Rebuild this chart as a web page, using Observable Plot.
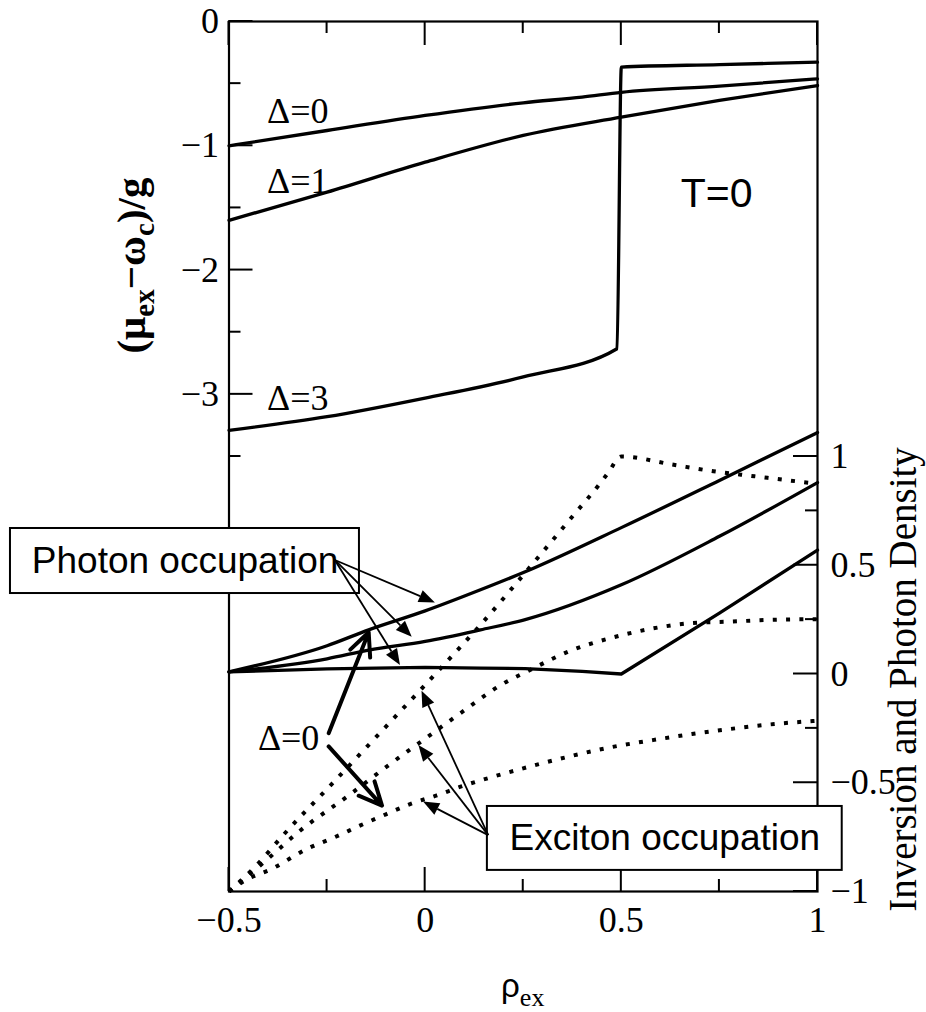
<!DOCTYPE html>
<html><head><meta charset="utf-8">
<script src="https://cdn.jsdelivr.net/npm/d3@7"></script>
<script src="https://cdn.jsdelivr.net/npm/@observablehq/plot@0.6"></script>
<style>html,body{margin:0;padding:0;background:#fff;} #chart svg{display:block;}</style>
</head><body><div id="chart"></div>
<script>
// ---------- tick values ----------
const xTicksMajor = [-0.5, 0, 0.5, 1];
const xTicksMinor = [-0.25, 0.25, 0.75];
const leftTicksMajor = [0, -1, -2, -3];
const leftTicksMinor = [-0.5, -1.5, -2.5, -3.5];
const rightTicksMajor = [1, 0.5, 0, -0.5, -1];
const rightTicksMinor = [0.75, 0.25, -0.25, -0.75];

// ---------- upper panel: (mu_ex - omega_c)/g  (left axis) ----------
const delta0X = [-0.5, -0.25, 0, 0.25, 0.4, 0.5, 0.75, 1];
const delta0Y = [-1.0, -0.877, -0.756, -0.654, -0.608, -0.57, -0.52, -0.461];
const delta1X = [-0.5, -0.25, 0, 0.25, 0.5, 0.75, 1];
const delta1Y = [-1.60, -1.373, -1.132, -0.917, -0.77, -0.635, -0.515];
const delta3X = [-0.5, -0.25, 0, 0.25, 0.489, 0.5, 0.75, 1];
const delta3Y = [-3.29, -3.18, -3.03, -2.86, -2.633, -0.367, -0.347, -0.327];

// ---------- lower panel: inversion and photon density (right axis) ----------
const photonAX = [-0.5, -0.25, -0.144, 0, 0.141, 0.255, 0.5, 0.75, 1];
const photonAY = [0.01, 0.13, 0.203, 0.29, 0.387, 0.47, 0.673, 0.89, 1.11];
const photonBX = [-0.5, -0.25, -0.144, 0, 0.141, 0.255, 0.5, 0.75, 1];
const photonBY = [0.01, 0.07, 0.11, 0.15, 0.203, 0.25, 0.41, 0.633, 0.88];
const photonCX = [-0.5, -0.25, 0, 0.141, 0.255, 0.4, 0.5, 0.75, 1];
const photonCY = [0.01, 0.024, 0.03, 0.027, 0.025, 0.012, 0.0, 0.28, 0.57];

const excitonAX = [-0.5, -0.43, -0.36, -0.237, -0.11, 0.018, 0.141, 0.285, 0.378, 0.45, 0.472, 0.49, 0.5, 0.63, 0.735, 0.84, 0.98, 1];
const excitonAY = [-1, -0.88, -0.737, -0.504, -0.261, -0.015, 0.226, 0.53, 0.73, 0.886, 0.94, 0.99, 1.0, 0.963, 0.932, 0.909, 0.879, 0.875];
const excitonBX = [-0.5, -0.41, -0.32, -0.2, -0.09, 0.03, 0.09, 0.2, 0.27, 0.37, 0.47, 0.57, 0.68, 0.78, 0.88, 1];
const excitonBY = [-1, -0.864, -0.722, -0.565, -0.415, -0.258, -0.18, -0.043, 0.021, 0.107, 0.164, 0.206, 0.234, 0.241, 0.249, 0.252];
const excitonCX = [-0.5, -0.46, -0.39, -0.3, -0.23, -0.165, -0.1, -0.04, 0.03, 0.094, 0.166, 0.27, 0.37, 0.47, 0.58, 0.68, 0.79, 0.89, 1];
const excitonCY = [-1, -0.95, -0.895, -0.803, -0.75, -0.696, -0.645, -0.599, -0.558, -0.516, -0.476, -0.424, -0.378, -0.338, -0.304, -0.276, -0.25, -0.23, -0.215];

// ---------- annotations (data coordinates; lower panel in right-axis units) ----------
const upperLabels = [
  {x: -0.403, y: -0.72, text: "Δ=0"},
  {x: -0.403, y: -1.287, text: "Δ=1"},
  {x: -0.403, y: -3.03, text: "Δ=3"}
];
const tempLabel = [{x: 0.743, y: -1.384, text: "T=0"}];
const lowerDeltaLabel = [{x: -0.348, v: -0.297, text: "Δ=0"}];
const boxes = [
  {x1: -1.057, x2: -0.1675, v1: 0.669, v2: 0.370, tx: -0.612, tv: 0.52, text: "Photon occupation"},
  {x1: 0.1586, x2: 1.063, v1: -0.609, v2: -0.903, tx: 0.611, tv: -0.756, text: "Exciton occupation"}
];
const thinArrows = [
  {x1: -0.229, v1: 0.522, x2: 0.026, v2: 0.327},
  {x1: -0.229, v1: 0.522, x2: -0.033, v2: 0.169},
  {x1: -0.229, v1: 0.522, x2: -0.063, v2: 0.039},
  {x1: 0.162, v1: -0.743, x2: -0.008, v2: -0.079},
  {x1: 0.162, v1: -0.743, x2: -0.016, v2: -0.329},
  {x1: 0.162, v1: -0.743, x2: -0.004, v2: -0.589}
];
const thickArrows = [
  {x1: -0.246, v1: -0.272, x2: -0.144, v2: 0.192},
  {x1: -0.246, v1: -0.333, x2: -0.110, v2: -0.605}
];

// right-axis units -> left-axis units (shared y scale)
const toLeft = v => -5.25 + 1.75 * v;
const toRight = u => Math.round((u + 5.25) / 1.75 * 1000) / 1000;
const fmt = d => String(d).replace("-", "\u2212");

function series(name, xs, ys, conv) {
  return xs.map((x, i) => ({name, x, y: conv ? toLeft(ys[i]) : ys[i]}));
}
const upperRows = [...series("d0", delta0X, delta0Y), ...series("d1", delta1X, delta1Y), ...series("d3", delta3X, delta3Y)];
const photonSmooth = [...series("A", photonAX, photonAY, true), ...series("B", photonBX, photonBY, true)];
const photonKink = series("C", photonCX, photonCY, true);
const excitonRows = [...series("A", excitonAX, excitonAY, true), ...series("B", excitonBX, excitonBY, true), ...series("C", excitonCX, excitonCY, true)];

// inward ticks on all four sides, placed through the plot's scales
function innerTicks(index, scales, values, dims) {
  const g = d3.create("svg:g").attr("stroke", "black").attr("stroke-width", 2).attr("fill", "none");
  const top = dims.marginTop, bottom = dims.height - dims.marginBottom;
  const left = dims.marginLeft, right = dims.width - dims.marginRight;
  const seg = (x1, y1, x2, y2) => g.append("line").attr("x1", x1).attr("y1", y1).attr("x2", x2).attr("y2", y2);
  const MAJ = 24, MIN = 12;
  for (const t of xTicksMajor) { const x = scales.x(t); seg(x, bottom, x, bottom - MAJ); seg(x, top, x, top + MAJ); }
  for (const t of xTicksMinor) { const x = scales.x(t); seg(x, bottom, x, bottom - MIN); seg(x, top, x, top + MIN); }
  for (const t of leftTicksMajor) { const y = scales.y(t); seg(left, y, left + MAJ, y); }
  for (const t of leftTicksMinor) { const y = scales.y(t); seg(left, y, left + MIN, y); }
  for (const t of rightTicksMajor) { const y = scales.y(toLeft(t)); seg(right, y, right - MAJ, y); }
  for (const t of rightTicksMinor) { const y = scales.y(toLeft(t)); seg(right, y, right - MIN, y); }
  return g.node();
}

function filledArrowMark(data) {
  return (index, scales) => {
    const g = d3.create("svg:g");
    for (const d of data) {
      const x1 = scales.x(d.x1), y1 = scales.y(toLeft(d.v1));
      const x2 = scales.x(d.x2), y2 = scales.y(toLeft(d.v2));
      const a = Math.atan2(y2 - y1, x2 - x1), L = 16, Wd = 6.5;
      const bx = x2 - L * Math.cos(a), by = y2 - L * Math.sin(a);
      g.append("line").attr("x1", x1).attr("y1", y1).attr("x2", bx).attr("y2", by)
        .attr("stroke", "black").attr("stroke-width", 1.8);
      g.append("path").attr("d", `M${x2},${y2}L${bx - Wd * Math.sin(a)},${by + Wd * Math.cos(a)}L${bx + Wd * Math.sin(a)},${by - Wd * Math.cos(a)}Z`)
        .attr("fill", "black");
    }
    return g.node();
  };
}

function axisLabels(index, scales, values, dims) {
  const g = d3.create("svg:g").attr("fill", "black");
  // left y label
  const yl = g.append("text")
    .attr("transform", `translate(${dims.marginLeft - 84},${scales.y(-2) - 4}) rotate(-90)`)
    .attr("text-anchor", "middle").attr("font-family", "Liberation Serif")
    .attr("font-weight", "bold").attr("font-size", 41);
  yl.append("tspan").text("(\u03bc");
  yl.append("tspan").attr("font-size", 29).attr("dy", 9).text("ex");
  yl.append("tspan").attr("dy", -9).text("\u2212\u03c9");
  yl.append("tspan").attr("font-size", 29).attr("dy", 9).text("c");
  yl.append("tspan").attr("dy", -9).text(")/g");
  // right y label
  g.append("text")
    .attr("transform", `translate(${dims.width - 10},${scales.y(toLeft(0)) + 6}) rotate(-90)`)
    .attr("text-anchor", "middle").attr("font-family", "Liberation Serif").attr("font-size", 39)
    .text("Inversion and Photon Density");
  // x label
  const xl = g.append("text")
    .attr("x", scales.x(0.25)).attr("y", dims.height - 15)
    .attr("text-anchor", "middle").attr("font-size", 33);
  xl.append("tspan").attr("font-family", "Liberation Sans").text("\u03c1");
  xl.append("tspan").attr("font-family", "Liberation Serif").attr("font-size", 26).attr("dy", 9).text("ex");
  return g.node();
}

const chart = Plot.plot({
  width: 926,
  height: 1012,
  marginLeft: 228.5,
  marginRight: 109,
  marginTop: 21,
  marginBottom: 121,
  style: {fontFamily: "Liberation Serif", fontSize: "36px", background: "white", color: "black"},
  x: {domain: [-0.5, 1]},
  y: {domain: [-7, 0]},
  marks: [
    Plot.line(upperRows, {x: "x", y: "y", z: "name", stroke: "black", strokeWidth: 3.3, curve: "monotone-x"}),
    Plot.line(photonSmooth, {x: "x", y: "y", z: "name", stroke: "black", strokeWidth: 3.3, curve: "monotone-x"}),
    Plot.line(photonKink, {x: "x", y: "y", stroke: "black", strokeWidth: 3.3, curve: "linear"}),
    Plot.line(excitonRows, {x: "x", y: "y", z: "name", stroke: "black", strokeWidth: 4, strokeDasharray: "4 9.3", strokeLinecap: "butt", curve: "monotone-x"}),
    Plot.frame({stroke: "black", strokeWidth: 2.2}),
    innerTicks,
    // tick labels
    Plot.axisX({ticks: xTicksMajor, anchor: "bottom", tickSize: 0, tickPadding: 15, tickFormat: fmt, fontSize: 36, label: null}),
    Plot.axisY({ticks: leftTicksMajor, anchor: "left", tickSize: 0, tickPadding: 10, tickFormat: fmt, fontSize: 36, label: null}),
    Plot.axisY({ticks: rightTicksMajor.map(toLeft), anchor: "right", tickSize: 0, tickPadding: 13, tickFormat: d => fmt(toRight(d)), fontSize: 36, label: null}),
    // curve labels
    Plot.text(upperLabels, {x: "x", y: "y", text: "text", textAnchor: "start", fontSize: 36, fontFamily: "Liberation Serif"}),
    Plot.text(tempLabel, {x: "x", y: "y", text: "text", fontSize: 41, fontFamily: "Liberation Sans"}),
    Plot.text(lowerDeltaLabel, {x: "x", y: d => toLeft(d.v), text: "text", fontSize: 36, fontFamily: "Liberation Serif"}),
    // boxes
    Plot.rect(boxes, {x1: "x1", x2: "x2", y1: d => toLeft(d.v1), y2: d => toLeft(d.v2), fill: "white", stroke: "black", strokeWidth: 2}),
    Plot.text(boxes, {x: "tx", y: d => toLeft(d.tv), text: "text", fontSize: 37, fontFamily: "Liberation Sans"}),
    // arrows
    filledArrowMark(thinArrows),
    Plot.arrow(thickArrows, {x1: "x1", y1: d => toLeft(d.v1), x2: "x2", y2: d => toLeft(d.v2), stroke: "black", strokeWidth: 4, headLength: 9.5, headAngle: 50}),
    axisLabels
  ]
});
document.getElementById("chart").appendChild(chart);
</script>
</body></html>
